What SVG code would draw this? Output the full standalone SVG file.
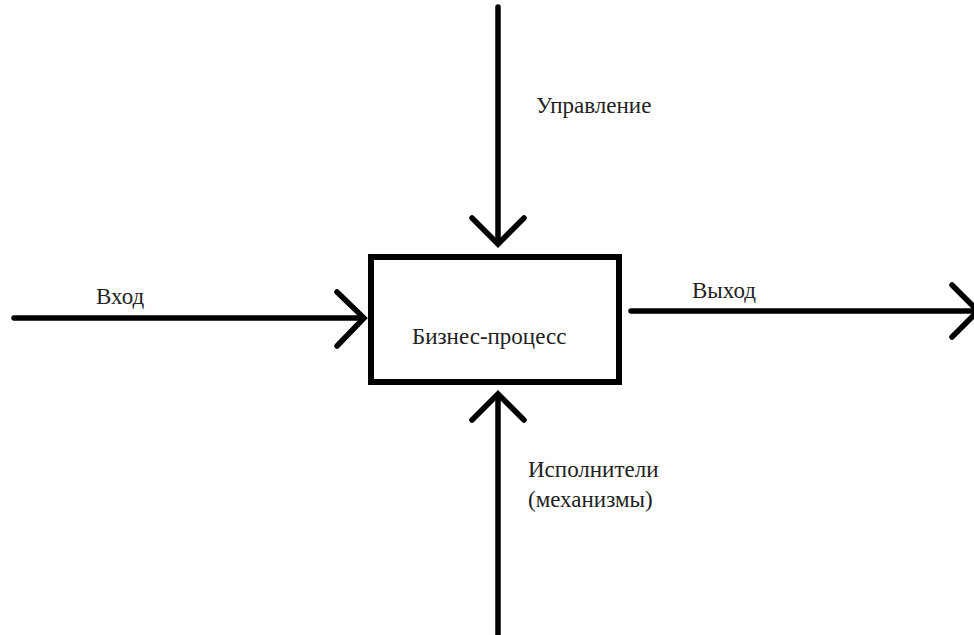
<svg xmlns="http://www.w3.org/2000/svg" width="974" height="635" viewBox="0 0 974 635">
<style>
.ln{stroke:#000;stroke-width:5.5;fill:none;stroke-linecap:round;stroke-linejoin:round}
.hd{stroke:#000;stroke-width:5.5;fill:none;stroke-linecap:round;stroke-linejoin:miter}
.t{font-family:"Liberation Serif","DejaVu Serif",serif;font-size:23px;fill:#222}
</style>
<rect width="974" height="635" fill="#fff"/>
<g id="process">
<rect x="371" y="257" width="248" height="125" fill="#fff" stroke="#000" stroke-width="6"/>
<text class="t" x="412" y="344">Бизнес-процесс</text>
</g>
<g id="connectors">
<g id="control">
<line class="ln" x1="498" y1="7" x2="498" y2="243"/>
<polyline class="hd" points="472,218 498,244 524,218"/>
<text class="t" x="536" y="113">Управление</text>
</g>
<g id="input">
<line class="ln" x1="14" y1="318" x2="362" y2="318"/>
<polyline class="hd" points="337,292 364,318 337,346"/>
<text class="t" x="96" y="304">Вход</text>
</g>
<g id="output">
<line class="ln" x1="631" y1="311" x2="976" y2="311"/>
<polyline class="hd" points="952,285 978,311 952,337"/>
<text class="t" x="692" y="298">Выход</text>
</g>
<g id="mechanism">
<line class="ln" x1="498" y1="640" x2="498" y2="395"/>
<polyline class="hd" points="472,420 498,394 524,420"/>
<text class="t" x="528" y="477">Исполнители</text>
<text class="t" x="528" y="507">(механизмы)</text>
</g>
</g>
</svg>
